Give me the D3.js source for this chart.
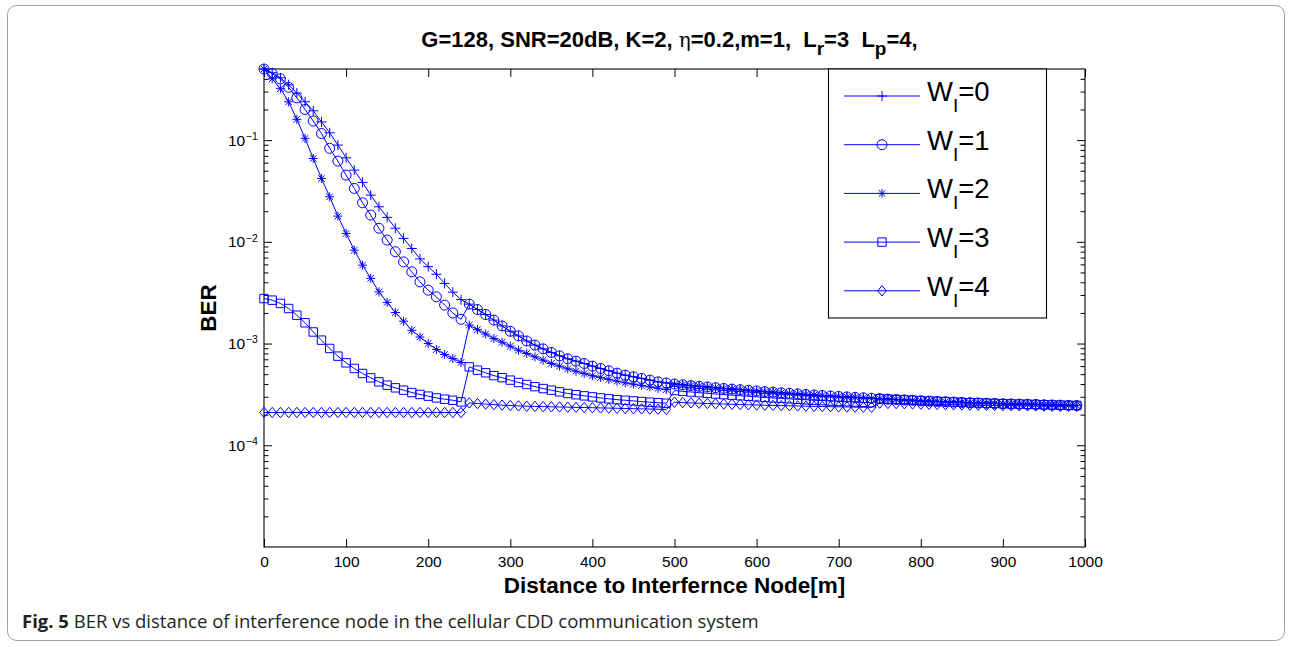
<!DOCTYPE html>
<html>
<head>
<meta charset="utf-8">
<script src="https://cdn.jsdelivr.net/npm/d3@7/dist/d3.min.js"></script>
<style>
  body { margin: 0; background: #fff; }
  svg { display: block; }
  text { white-space: pre; }
</style>
</head>
<body>
<div id="chart"></div>
<script>
// distance grid (m), one marker every 10 m
let distances = d3.range(0, 1000, 10)

// BER curves. Each curve is a guard-window case, and a
// series with W_I=n uses curve n-j on the j-th 250 m block (curve 0 once n-j<0)
let curve0 = [
  0.5, 0.46, 0.41, 0.35, 0.29, 0.238, 0.194, 0.151, 0.118, 0.0893,
  0.067, 0.0507, 0.0384, 0.0288, 0.0221, 0.0174, 0.0136, 0.0108, 0.0086, 0.0068,
  0.0057, 0.0048, 0.0039, 0.0032, 0.0027,
  0.00244, 0.00216, 0.00193, 0.0017, 0.00149, 0.00132, 0.00119, 0.00106, 0.000965, 0.000887,
  0.000818, 0.000757, 0.000708, 0.000672, 0.000637, 0.0006, 0.000569, 0.00054, 0.000512, 0.000489,
  0.000471, 0.000454, 0.000437, 0.00042, 0.00041,
  0.0004, 0.000393, 0.000386, 0.00038, 0.000374, 0.000368, 0.000362, 0.000357, 0.000352, 0.000347,
  0.000342, 0.000337, 0.000333, 0.000328, 0.000324, 0.00032, 0.000316, 0.000312, 0.000309, 0.000305,
  0.000302, 0.000299, 0.000296, 0.000293, 0.00029,
  0.000287, 0.000284, 0.000282, 0.000279, 0.000277, 0.000274, 0.000272, 0.00027, 0.000268, 0.000266,
  0.000264, 0.000262, 0.000261, 0.000259, 0.000258, 0.000256, 0.000255, 0.000254, 0.000253, 0.000252,
  0.00025, 0.000249, 0.000248, 0.000247, 0.000246
]
let curve1 = [
  0.5, 0.45, 0.4, 0.33, 0.26, 0.2, 0.154, 0.116, 0.083, 0.0622,
  0.0453, 0.0335, 0.0242, 0.0183, 0.0136, 0.0104, 0.008, 0.00635, 0.00507, 0.00404,
  0.00335, 0.00288, 0.00239, 0.002, 0.00173,
  0.00152, 0.00137, 0.00124, 0.00112, 0.00103, 0.000943, 0.00086, 0.0008, 0.00074, 0.000687,
  0.000637, 0.0006, 0.000564, 0.000535, 0.000508, 0.000482, 0.000465, 0.000444, 0.000427, 0.000411,
  0.000399, 0.000387, 0.000375, 0.000363, 0.000353,
  0.000345, 0.000339, 0.000334, 0.000329, 0.000324, 0.000319, 0.000315, 0.000311, 0.000307, 0.000303,
  0.000299, 0.000295, 0.000292, 0.000289, 0.000286, 0.000283, 0.00028, 0.000277, 0.000275, 0.000272,
  0.00027, 0.000268, 0.000266, 0.000264, 0.000262,
  0.00026, 0.000258, 0.000257, 0.000256, 0.000255, 0.000254, 0.000253, 0.000252, 0.000251, 0.00025,
  0.000249, 0.000248, 0.0002475, 0.000247, 0.000246, 0.0002455, 0.000245, 0.0002445, 0.000244, 0.0002435,
  0.000243, 0.0002425, 0.000242, 0.0002415, 0.000241
]
let curve2 = [
  0.5, 0.4, 0.32, 0.238, 0.16, 0.104, 0.066, 0.042, 0.0277, 0.0179,
  0.0121, 0.00828, 0.0059, 0.00437, 0.00322, 0.00254, 0.00202, 0.00166, 0.00135, 0.00116,
  0.001, 0.000875, 0.00078, 0.000713, 0.000652,
  0.00059, 0.000548, 0.000516, 0.000484, 0.000462, 0.000437, 0.000414, 0.000396, 0.000377, 0.000361,
  0.000348, 0.000335, 0.000323, 0.000314, 0.000306, 0.000299, 0.000292, 0.000286, 0.000281, 0.000277,
  0.000273, 0.000269, 0.000265, 0.000262, 0.000259,
  0.000265, 0.000263, 0.000261, 0.000259, 0.0002575, 0.000256, 0.0002545, 0.000253, 0.0002515, 0.00025,
  0.000249, 0.0002475, 0.0002465, 0.0002455, 0.0002445, 0.0002435, 0.0002425, 0.0002415, 0.0002405, 0.0002395,
  0.000239, 0.000238, 0.000237, 0.0002365, 0.000236
]
let curve3 = [
  0.00277, 0.00267, 0.00248, 0.00221, 0.0019, 0.0016, 0.0013, 0.00108, 0.000895, 0.000752,
  0.000646, 0.000569, 0.000508, 0.00046, 0.00042, 0.00039, 0.000367, 0.000348, 0.00033, 0.000316,
  0.000304, 0.000292, 0.000284, 0.000277, 0.000267,
  0.000261, 0.000257, 0.000254, 0.000251, 0.000248, 0.000246, 0.000244, 0.000242, 0.000241, 0.00024,
  0.000239, 0.000238, 0.000237, 0.000236, 0.000235, 0.000234, 0.000233, 0.000232, 0.000231, 0.00023,
  0.000229, 0.000228, 0.000227, 0.000226, 0.000225
]
let curve4 = [
  0.00021, 0.00021, 0.00021, 0.00021, 0.00021, 0.00021, 0.00021, 0.00021, 0.00021, 0.00021,
  0.00021, 0.00021, 0.00021, 0.00021, 0.00021, 0.00021, 0.00021, 0.00021, 0.00021, 0.00021,
  0.00021, 0.00021, 0.00021, 0.00021, 0.00021
]
let curves = [curve0, curve1, curve2, curve3, curve4]

let seriesNames = ['0', '1', '2', '3', '4']
let markerTypes = ['plus', 'circle', 'asterisk', 'square', 'diamond']
let xTicks = [0, 100, 200, 300, 400, 500, 600, 700, 800, 900, 1000]
let yTicks = [1e-4, 1e-3, 1e-2, 1e-1]
let yTickExp = ['\u22124', '\u22123', '\u22122', '\u22121']
let blockSize = 25

let blue = '#0000ff'
let font = "'Liberation Sans', Arial, Helvetica, sans-serif"

let margin = { top: 69, left: 264, right: 207, bottom: 100 }
let width = 1085 - 264
let height = 547 - 69

let root = d3
  .select('#chart')
  .append('svg')
  .attr('width', 1292)
  .attr('height', 647)

// outer figure frame
root
  .append('rect')
  .attr('x', 7.5)
  .attr('y', 5.5)
  .attr('width', 1277)
  .attr('height', 635)
  .attr('rx', 9)
  .attr('fill', 'none')
  .attr('stroke', '#a0a0a0')
  .attr('stroke-width', 1)

let svg = root
  .append('g')
  .attr('transform', 'translate(' + margin.left + ',' + margin.top + ')')

let xPositionScale = d3.scaleLinear().domain([0, 1000]).range([0, width])
let yPositionScale = d3.scaleLog().domain([1e-5, 0.5]).range([height, 0])

// build each series from the curve blocks
let series = seriesNames.map((name, n) => {
  let values = distances.map((d, i) => {
    let block = Math.floor(i / blockSize)
    let c = Math.max(n - block, 0)
    return { d: d, ber: curves[c][i] }
  })
  return { name: name, marker: markerTypes[n], values: values }
})

function markerPath(type) {
  if (type === 'plus') return 'M-5,0H5M0,-5V5'
  if (type === 'circle') return 'M5,0A5,5 0 1,1 -5,0A5,5 0 1,1 5,0Z'
  if (type === 'asterisk') return 'M-4.5,0H4.5M0,-4.5V4.5M-3.3,-3.3L3.3,3.3M-3.3,3.3L3.3,-3.3'
  if (type === 'square') return 'M-4.2,-4.2H4.2V4.2H-4.2Z'
  return 'M0,-5.2L4.3,0L0,5.2L-4.3,0Z'
}

// axes (ticks point inward like the original)
let xAxisBottom = d3
  .axisBottom(xPositionScale)
  .tickValues(xTicks)
  .tickSize(-8)
  .tickPadding(9)
  .tickFormat(d3.format('d'))
let xAxisTop = d3.axisTop(xPositionScale).tickValues(xTicks).tickSize(-8).tickFormat('')
let yAxisLeft = d3.axisLeft(yPositionScale).tickValues(yTicks).tickSize(-8).tickPadding(17)
let yAxisRight = d3.axisRight(yPositionScale).tickValues(yTicks).tickSize(-8).tickFormat('')

let minorTicks = []
;[-5, -4, -3, -2, -1].forEach(e => {
  for (let k = 2; k <= 9; k++) {
    let v = k * Math.pow(10, e)
    if (v < 0.5) minorTicks.push(v)
  }
})
let yMinorLeft = d3.axisLeft(yPositionScale).tickValues(minorTicks).tickSize(-4.5).tickFormat('')
let yMinorRight = d3.axisRight(yPositionScale).tickValues(minorTicks).tickSize(-4.5).tickFormat('')

svg
  .append('g')
  .attr('class', 'axis x-axis')
  .attr('transform', 'translate(0,' + height + ')')
  .call(xAxisBottom)
svg.append('g').attr('class', 'axis x-axis-top').call(xAxisTop)
svg.append('g').attr('class', 'axis y-axis').call(yAxisLeft)
svg
  .append('g')
  .attr('class', 'axis y-axis-right')
  .attr('transform', 'translate(' + width + ',0)')
  .call(yAxisRight)
svg.append('g').attr('class', 'axis y-minor').call(yMinorLeft)
svg
  .append('g')
  .attr('class', 'axis y-minor')
  .attr('transform', 'translate(' + width + ',0)')
  .call(yMinorRight)

svg.selectAll('.axis .domain').remove()
svg.selectAll('.axis line').attr('stroke', '#000').attr('stroke-width', 1)
svg
  .selectAll('.axis text')
  .attr('font-family', font)
  .attr('font-size', 15.5)
  .attr('fill', '#000')

// y labels as 10 with a superscript
svg
  .select('.y-axis')
  .selectAll('.tick text')
  .each(function(d, i) {
    let t = d3.select(this)
    t.text('')
    t.append('tspan').text('10')
    t.append('tspan')
      .attr('font-size', 10.5)
      .attr('dy', '-0.55em')
      .attr('dx', '0.5')
      .text(yTickExp[i])
  })
  .attr('text-anchor', 'start')
  .attr('x', -36)

// box
svg
  .append('rect')
  .attr('width', width)
  .attr('height', height)
  .attr('fill', 'none')
  .attr('stroke', '#000')
  .attr('stroke-width', 1.1)

let line = d3
  .line()
  .x(d => xPositionScale(d.d))
  .y(d => yPositionScale(d.ber))

let groups = svg
  .selectAll('.series')
  .data(series)
  .enter()
  .append('g')
  .attr('class', 'series')

groups
  .append('path')
  .attr('d', d => line(d.values))
  .attr('fill', 'none')
  .attr('stroke', blue)
  .attr('stroke-width', 1)

groups.each(function(s) {
  d3.select(this)
    .selectAll('.marker')
    .data(s.values)
    .enter()
    .append('path')
    .attr('class', 'marker')
    .attr('transform', d => 'translate(' + xPositionScale(d.d) + ',' + yPositionScale(d.ber) + ')')
    .attr('d', markerPath(s.marker))
    .attr('fill', 'none')
    .attr('stroke', blue)
    .attr('stroke-width', 1)
})

// legend
let legend = svg
  .append('g')
  .attr('class', 'legend')
  .attr('transform', 'translate(' + (828 - margin.left) + ',0)')

legend
  .append('rect')
  .attr('x', 0.5)
  .attr('y', 0)
  .attr('width', 218)
  .attr('height', 249)
  .attr('fill', '#fff')
  .attr('stroke', '#000')
  .attr('stroke-width', 1.1)

let legendItems = legend
  .selectAll('.legend-item')
  .data(series)
  .enter()
  .append('g')
  .attr('class', 'legend-item')
  .attr('transform', (d, i) => 'translate(0,' + (27 + i * 48.7) + ')')

legendItems
  .append('line')
  .attr('x1', 16)
  .attr('x2', 92)
  .attr('stroke', blue)
  .attr('stroke-width', 1)

legendItems
  .append('path')
  .attr('transform', 'translate(54,0)')
  .attr('d', d => markerPath(d.marker))
  .attr('fill', 'none')
  .attr('stroke', blue)
  .attr('stroke-width', 1)

let legendText = legendItems
  .append('text')
  .attr('x', 99)
  .attr('y', 5)
  .attr('font-family', font)
  .attr('font-size', 27.5)
  .attr('fill', '#000')
legendText.append('tspan').text('W')
legendText
  .append('tspan')
  .attr('font-size', 19)
  .attr('dy', 11)
  .text('I')
legendText
  .append('tspan')
  .attr('dy', -11)
  .text(d => '=' + d.name)

// title
let title = svg
  .append('text')
  .attr('x', width / 2 - 5)
  .attr('y', -22)
  .attr('text-anchor', 'middle')
  .attr('font-family', font)
  .attr('font-size', 22)
  .attr('font-weight', 'bold')
  .attr('fill', '#000')
title.append('tspan').text('G=128, SNR=20dB, K=2, ')
title
  .append('tspan')
  .attr('font-weight', 'normal')
  .attr('font-family', "'DejaVu Serif', serif")
  .attr('font-size', 20)
  .text('\u03b7')
title.append('tspan').text('=0.2,m=1,  L')
title.append('tspan').attr('font-size', 19).attr('dy', 8).text('r')
title.append('tspan').attr('dy', -8).text('=3  L')
title.append('tspan').attr('font-size', 19).attr('dy', 8).text('p')
title.append('tspan').attr('dy', -8).text('=4,')

// axis labels
svg
  .append('text')
  .attr('x', width / 2)
  .attr('y', height + 46)
  .attr('text-anchor', 'middle')
  .attr('font-family', font)
  .attr('font-size', 22.5)
  .attr('font-weight', 'bold')
  .attr('fill', '#000')
  .text('Distance to Interfernce Node[m]')

svg
  .append('text')
  .attr('transform', 'translate(-48,' + height / 2 + ') rotate(-90)')
  .attr('text-anchor', 'middle')
  .attr('font-family', font)
  .attr('font-size', 22.5)
  .attr('font-weight', 'bold')
  .attr('fill', '#000')
  .text('BER')

// caption
let caption = root
  .append('text')
  .attr('x', 22)
  .attr('y', 628)
  .attr('font-family', "'Open Sans', 'Noto Sans', sans-serif")
  .attr('font-size', 18.5)
  .attr('fill', '#231f20')
caption.append('tspan').attr('font-weight', 'bold').text('Fig. 5')
caption.append('tspan').text(' BER vs distance of interference node in the cellular CDD communication system')
</script>
</body>
</html>
